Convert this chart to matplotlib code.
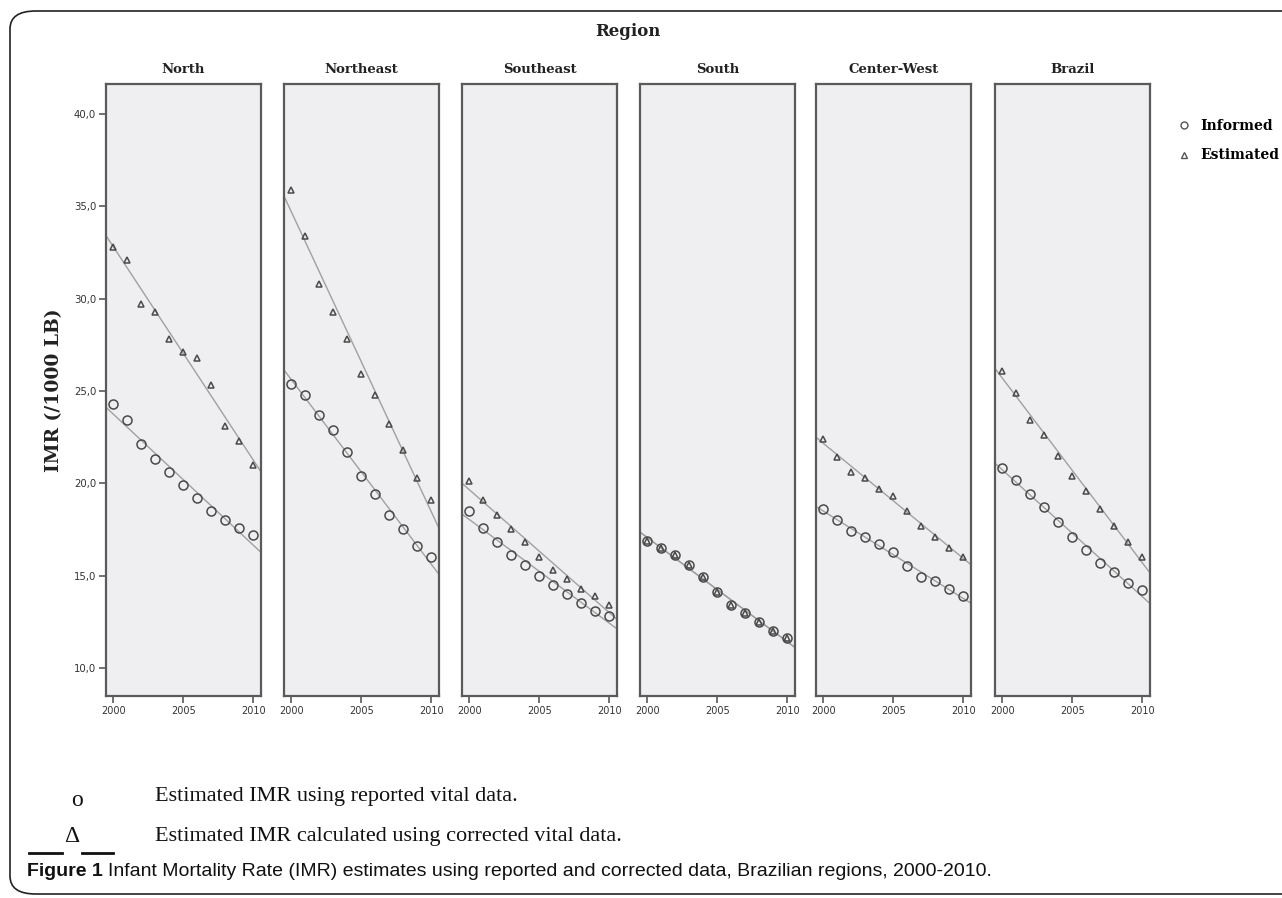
"""IMR par région, données informées et estimées, 2000-2010."""
import matplotlib
matplotlib.use("Agg")
import matplotlib.pyplot as plt
import numpy as np
from matplotlib.lines import Line2D
from matplotlib.patches import FancyBboxPatch
from matplotlib.ticker import FuncFormatter

YEARS = list(range(2000, 2011))
REGIONS = ["North", "Northeast", "Southeast", "South", "Center-West", "Brazil"]

# valeurs (pour 1000 naissances vivantes)
informed = {
    "North": [24.3, 23.4, 22.1, 21.3, 20.6, 19.9, 19.2, 18.5, 18.0, 17.6, 17.2],
    "Northeast": [25.4, 24.8, 23.7, 22.9, 21.7, 20.4, 19.4, 18.3, 17.5, 16.6, 16.0],
    "Southeast": [18.5, 17.6, 16.8, 16.1, 15.6, 15.0, 14.5, 14.0, 13.5, 13.1, 12.8],
    "South": [16.9, 16.5, 16.1, 15.6, 14.9, 14.1, 13.4, 13.0, 12.5, 12.0, 11.6],
    "Center-West": [18.6, 18.0, 17.4, 17.1, 16.7, 16.3, 15.5, 14.9, 14.7, 14.3, 13.9],
    "Brazil": [20.8, 20.2, 19.4, 18.7, 17.9, 17.1, 16.4, 15.7, 15.2, 14.6, 14.2],
}
estimated = {
    "North": [32.8, 32.1, 29.7, 29.3, 27.8, 27.1, 26.8, 25.3, 23.1, 22.3, 21.0],
    "Northeast": [35.9, 33.4, 30.8, 29.3, 27.8, 25.9, 24.8, 23.2, 21.8, 20.3, 19.1],
    "Southeast": [20.1, 19.1, 18.3, 17.5, 16.8, 16.0, 15.3, 14.8, 14.3, 13.9, 13.4],
    "South": [16.9, 16.5, 16.1, 15.6, 14.9, 14.1, 13.4, 13.0, 12.5, 12.0, 11.6],
    "Center-West": [22.4, 21.4, 20.6, 20.3, 19.7, 19.3, 18.5, 17.7, 17.1, 16.5, 16.0],
    "Brazil": [26.1, 24.9, 23.4, 22.6, 21.5, 20.4, 19.6, 18.6, 17.7, 16.8, 16.0],
}

W, H = 1282, 898
PANEL_LEFT = [106, 284, 462, 640, 816, 995]
PANEL_W = 155
PANEL_TOP, PANEL_BOTTOM = 84, 696
XLIM = (1999.47, 2010.55)
YLIM = (8.48, 41.62)

BG = "#efeff1"
EDGE = "#5a5a5a"
FIT = "#a0a0a0"
SERIF = "DejaVu Serif"
TIMES = "Liberation Serif"


def fig_box(x0, width):
    """Convertit des pixels en coordonnées figure."""
    return [x0 / W, 1 - PANEL_BOTTOM / H, width / W, (PANEL_BOTTOM - PANEL_TOP) / H]


def draw_series(ax, values, marker, size):
    """Points + droite d'ajustement sur toute la largeur du panneau."""
    coefs = np.polyfit(YEARS, values, 1)
    xs = np.linspace(XLIM[0], XLIM[1], 50)
    ax.plot(xs, np.polyval(coefs, xs), color=FIT, lw=1.0, zorder=2)
    ax.plot(YEARS, values, linestyle="none", marker=marker, markersize=size,
            markerfacecolor="none", markeredgecolor="#4a4a4a",
            markeredgewidth=1.1, zorder=3)


fig = plt.figure(figsize=(W / 100, H / 100), dpi=100)

frame = FancyBboxPatch((10 / W, 4 / H), 1.2, 1 - 15 / H,
                       boxstyle="round,pad=0,rounding_size=0.02",
                       transform=fig.transFigure, fill=False,
                       edgecolor="#222222", lw=1.2, clip_on=False)
fig.patches.append(frame)

for i, region in enumerate(REGIONS):
    ax = fig.add_axes(fig_box(PANEL_LEFT[i], PANEL_W))
    ax.set_facecolor(BG)
    for spine in ax.spines.values():
        spine.set_color(EDGE)
        spine.set_linewidth(1.6)
    ax.set_xlim(*XLIM)
    ax.set_ylim(*YLIM)
    draw_series(ax, estimated[region], "^", 4.5)
    draw_series(ax, informed[region], "o", 6.5)
    ax.set_title(region, fontsize=9.5, fontweight="bold", family=SERIF,
                 color="#222222", pad=8)
    ax.set_xticks([2000, 2005, 2010])
    ax.tick_params(axis="x", length=5, width=1.2, color=EDGE,
                   labelsize=7, labelcolor="#333333", pad=2)
    if i == 0:
        ax.set_yticks([10, 15, 20, 25, 30, 35, 40])
        ax.yaxis.set_major_formatter(
            FuncFormatter(lambda v, _: f"{v:.1f}".replace(".", ",")))
        ax.tick_params(axis="y", length=5, width=1.2, color=EDGE,
                       labelsize=7.3, labelcolor="#333333", pad=2)
        ax.set_ylabel("IMR (/1000 LB)", fontsize=13.5, fontweight="bold",
                      family=SERIF, color="#222222", labelpad=8)
    else:
        ax.set_yticks([])

fig.text(628 / W, 1 - 32 / H, "Region", ha="center", va="center",
         fontsize=12, fontweight="bold", family=SERIF, color="#222222")

handles = [
    Line2D([], [], linestyle="none", marker="o", markersize=5,
           markerfacecolor="none", markeredgecolor="#555555"),
    Line2D([], [], linestyle="none", marker="^", markersize=5,
           markerfacecolor="none", markeredgecolor="#555555"),
]
fig.legend(handles, ["Informed", "Estimated"], loc="upper left",
           bbox_to_anchor=(1166 / W, 1 - 106 / H), frameon=False,
           prop={"family": SERIF, "weight": "bold", "size": 10},
           labelspacing=1.15, handlelength=0.8, handletextpad=0.8)

# notes sous le graphique
fig.text(77 / W, 1 - 800 / H, "o", ha="center", va="center",
         fontsize=17, family=TIMES, color="#111111")
fig.text(155 / W, 1 - 797 / H, "Estimated IMR using reported vital data.",
         ha="left", va="center", fontsize=16, family=TIMES, color="#111111")
fig.text(72 / W, 1 - 836 / H, "Δ", ha="center", va="center",
         fontsize=17, family=TIMES, color="#111111")
for x0, x1 in [(29, 62), (82, 113)]:
    fig.add_artist(Line2D([x0 / W, x1 / W], [1 - 853 / H, 1 - 853 / H],
                          transform=fig.transFigure, color="#111111", lw=2))
fig.text(155 / W, 1 - 836 / H,
         "Estimated IMR calculated using corrected vital data.",
         ha="left", va="center", fontsize=16, family=TIMES, color="#111111")

CAPTION_FONT = "Liberation Sans"
cap_bold = fig.text(27 / W, 1 - 872 / H, "Figure 1 ", ha="left", va="center",
                    fontsize=14, fontweight="bold", family=CAPTION_FONT,
                    color="#111111")
fig.canvas.draw()
bb = cap_bold.get_window_extent()
fig.text(bb.x1 / W, 1 - 872 / H,
         "Infant Mortality Rate (IMR) estimates using reported and corrected "
         "data, Brazilian regions, 2000-2010.",
         ha="left", va="center", fontsize=14, family=CAPTION_FONT,
         color="#111111")

fig.savefig("out.png", dpi=100)
